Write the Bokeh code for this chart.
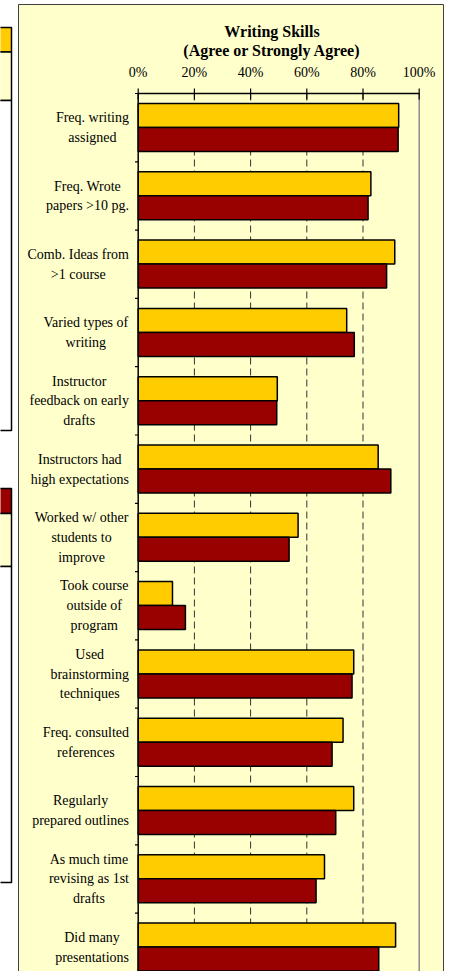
from bokeh.plotting import figure
from bokeh.models import ColumnDataSource, Range1d
from bokeh.core.properties import value
from bokeh.embed import file_html
from bokeh.resources import INLINE

# ---------------- data ----------------
categories = [
    "Freq. writing\nassigned",
    "Freq. Wrote\npapers >10 pg.",
    "Comb. Ideas from\n>1 course",
    "Varied types of\nwriting",
    "Instructor\nfeedback on early\ndrafts",
    "Instructors had\nhigh expectations",
    "Worked w/ other\nstudents to\nimprove",
    "Took course\noutside of\nprogram",
    "Used\nbrainstorming\ntechniques",
    "Freq. consulted\nreferences",
    "Regularly\nprepared outlines",
    "As much time\nrevising as 1st\ndrafts",
    "Did many\npresentations",
]
series_yellow = [92.7, 82.8, 91.3, 74.2, 49.5, 85.4, 56.9, 12.2, 76.7, 72.9, 76.7, 66.3, 91.6]
series_red = [92.5, 81.8, 88.4, 76.9, 49.3, 89.9, 53.7, 16.8, 76.1, 69.0, 70.3, 63.3, 85.6]
tick_values = [0, 20, 40, 60, 80, 100]
tick_labels = ["0%", "20%", "40%", "60%", "80%", "100%"]
title_lines = ["Writing Skills", "(Agree or Strongly Agree)"]

# ---------------- layout constants ----------------
W, H = 450, 971
X0, PXU = 137.7, 2.81      # pixel of 0 %, pixels per percent
Y0, BAND = 93.0, 68.3      # pixel of top axis, pixels per category band
YELLOW, RED, PANEL = "#FFCC00", "#990000", "#FFFFCC"
FONT = value("Liberation Serif")


def vx(px):
    return (px - X0) / PXU


def cy(py):
    return (py - Y0) / BAND


TNR = {" ": 250, ".": 250, ">": 564, "/": 278, "%": 833,
       "A": 722, "C": 667, "D": 722, "F": 556, "I": 333, "R": 667, "T": 611,
       "U": 722, "V": 722, "W": 944,
       "a": 444, "b": 500, "c": 444, "d": 500, "e": 444, "f": 333, "g": 500,
       "h": 500, "i": 278, "j": 278, "k": 500, "l": 278, "m": 778, "n": 500,
       "o": 500, "p": 500, "q": 500, "r": 333, "s": 389, "t": 278, "u": 500,
       "v": 500, "w": 722, "x": 500, "y": 500, "z": 444}


def text_w(s, size):
    return sum(TNR.get(ch, 500) for ch in s) / 1000.0 * size


p = figure(width=W, height=H, x_range=Range1d(vx(0), vx(W)),
           y_range=Range1d(cy(H), cy(0)), output_backend="svg",
           toolbar_location=None, x_axis_location=None, y_axis_location=None,
           min_border=0)
p.grid.visible = False
p.outline_line_color = None
p.background_fill_color = "white"
p.border_fill_color = "white"

# panel and neighbouring panels' fragments
p.quad(left=[vx(18)], right=[vx(443)], top=[cy(4)], bottom=[cy(H + 20)],
       fill_color=PANEL, line_color="#404040", line_width=1)
p.quad(left=[vx(-20)] * 6, right=[vx(11)] * 6,
       top=[cy(27), cy(51.5), cy(100), cy(488), cy(513), cy(566)],
       bottom=[cy(51.5), cy(100), cy(430), cy(513), cy(566), cy(882)],
       fill_color=[YELLOW, PANEL, "white", RED, PANEL, "white"],
       line_color="black", line_width=1.5)

n = len(categories)
bottom_c = cy(H + 20)

# dashed vertical gridlines
grid_x = tick_values[1:-1]
p.segment(x0=grid_x, x1=grid_x, y0=[0] * len(grid_x), y1=[bottom_c] * len(grid_x),
          line_color="#333333", line_width=1, line_dash="7 4")
# right frame line
p.segment(x0=[tick_values[-1]], x1=[tick_values[-1]], y0=[0], y1=[bottom_c],
          line_color="#8c8c8c", line_width=1.5)

# bars
idx = list(range(n))
bar_h = 24 / BAND
src = ColumnDataSource(dict(
    yy=[i + (10 + 12) / BAND for i in idx],
    yr=[i + (34 + 12) / BAND for i in idx],
    a=series_yellow, b=series_red))
p.hbar(y="yy", left=0, right="a", height=bar_h, source=src,
       fill_color=YELLOW, line_color="black", line_width=1.5)
p.hbar(y="yr", left=0, right="b", height=bar_h, source=src,
       fill_color=RED, line_color="black", line_width=1.5)

# axes
p.segment(x0=[tick_values[0]], x1=[tick_values[-1]], y0=[0], y1=[0],
          line_color="black", line_width=1.5)
p.segment(x0=[0], x1=[0], y0=[0], y1=[bottom_c], line_color="black", line_width=1.5)
p.segment(x0=tick_values, x1=tick_values, y0=[cy(88)] * 6, y1=[cy(99)] * 6,
          line_color="black", line_width=1.2)
bounds = list(range(n + 1))
p.segment(x0=[vx(134.5)] * len(bounds), x1=[0] * len(bounds), y0=bounds, y1=bounds,
          line_color="black", line_width=1.2)

# tick labels
p.text(x=tick_values, y=[cy(72)] * 6, text=tick_labels, text_align="center",
       text_baseline="middle", text_font=FONT, text_font_size="14px",
       text_color="black")

# title
p.text(x=[vx(271.5)] * 2, y=[cy(31), cy(49.5)], text=title_lines,
       text_align="center", text_baseline="middle", text_font=FONT,
       text_font_size="16px", text_font_style="bold", text_color="black")

# category labels: block right-aligned, lines centred
size = 14
right_px = 128.5
lx = []
for c in categories:
    mw = max(text_w(line, size) for line in c.split("\n"))
    lx.append(vx(right_px - mw / 2))
p.text(x=lx, y=[i + 0.5 for i in idx], text=categories, text_align="center",
       text_baseline="middle", text_font=FONT, text_font_size="14px",
       text_line_height=1.32, text_color="black")

open("out.html", "w").write(file_html(p, INLINE))
